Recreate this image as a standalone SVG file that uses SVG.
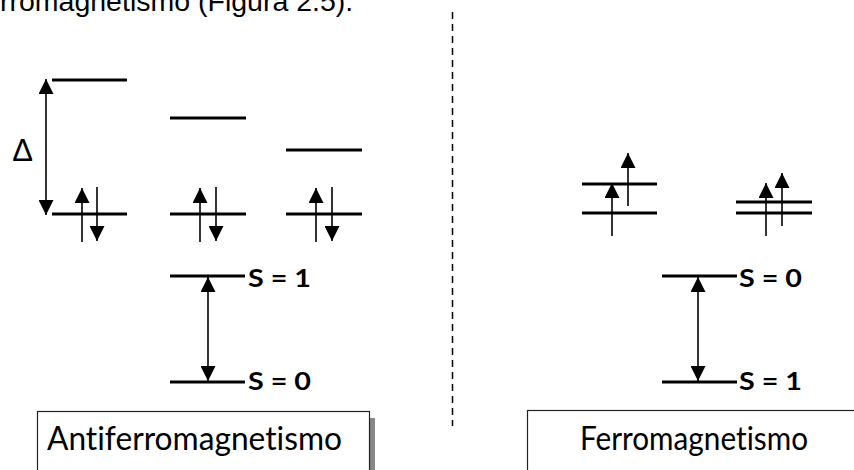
<svg xmlns="http://www.w3.org/2000/svg" width="854" height="470" viewBox="0 0 854 470">
<defs>
<marker id="ah" markerUnits="userSpaceOnUse" markerWidth="15" markerHeight="15" refX="15" refY="7.5" orient="auto-start-reverse" viewBox="0 0 15 15">
<path d="M0,0 L15,7.5 L0,15 z" fill="#000"/>
</marker>
<style>
.lvl{stroke:#000;stroke-width:3;fill:none}
.arr{stroke:#000;stroke-width:1.6;fill:none;marker-end:url(#ah)}
.darr{stroke:#000;stroke-width:1.6;fill:none;marker-end:url(#ah);marker-start:url(#ah)}
.s{font-family:Lato,"Liberation Sans",sans-serif;font-weight:bold;font-size:24px;fill:#000;font-variant-ligatures:none}
.lab{font-family:Lato,"Liberation Sans",sans-serif;font-size:32px;fill:#000;font-variant-ligatures:none;font-feature-settings:"liga" 0,"dlig" 0}
.box{fill:#fff;stroke:#222;stroke-width:1.2}
</style>
</defs>
<rect width="854" height="470" fill="#fff"/>
<text x="0" y="11" font-family="'Liberation Sans',Arial,sans-serif" font-size="28.5" fill="#000">rromagnetismo (Figura 2.5).</text>
<line x1="452.5" y1="12" x2="452.5" y2="426" stroke="#000" stroke-width="1.5" stroke-dasharray="7 5"/>
<g id="antiferro-levels">
<line class="lvl" x1="52" y1="80" x2="127" y2="80"/>
<line class="lvl" x1="52" y1="214" x2="127" y2="214"/>
<line class="lvl" x1="170" y1="118" x2="246" y2="118"/>
<line class="lvl" x1="170" y1="214" x2="246" y2="214"/>
<line class="lvl" x1="286" y1="150" x2="362" y2="150"/>
<line class="lvl" x1="286" y1="214" x2="362" y2="214"/>
<text x="22.5" y="161" text-anchor="middle" font-family="'Liberation Sans',Arial,sans-serif" font-size="31" fill="#000">Δ</text>
</g>
<g id="antiferro-spin">
<line class="lvl" x1="170" y1="276" x2="245" y2="276"/>
<line class="lvl" x1="170" y1="382" x2="245" y2="382"/>
<text class="s" x="248" y="287" textLength="63" lengthAdjust="spacingAndGlyphs">S = 1</text>
<text class="s" x="248" y="390" textLength="63" lengthAdjust="spacingAndGlyphs">S = 0</text>
</g>
<g id="ferro-levels">
<line class="lvl" x1="582" y1="184" x2="657" y2="184"/>
<line class="lvl" x1="582" y1="213" x2="657" y2="213"/>
<line class="lvl" x1="736" y1="202" x2="812" y2="202"/>
<line class="lvl" x1="736" y1="213" x2="812" y2="213"/>
</g>
<g id="ferro-spin">
<line class="lvl" x1="662" y1="276" x2="737" y2="276"/>
<line class="lvl" x1="662" y1="382" x2="737" y2="382"/>
<text class="s" x="739" y="287" textLength="63" lengthAdjust="spacingAndGlyphs">S = 0</text>
<text class="s" x="739" y="390" textLength="63" lengthAdjust="spacingAndGlyphs">S = 1</text>
</g>
<g id="label-antiferro">
<rect x="370" y="418" width="5" height="60" fill="#888"/>
<rect class="box" x="37.5" y="411.5" width="332" height="70"/>
<text class="lab" x="47" y="450" textLength="295" lengthAdjust="spacingAndGlyphs">Antiferromagnetismo</text>
</g>
<g id="label-ferro">
<rect class="box" x="527.5" y="410.5" width="340" height="70"/>
<text class="lab" x="580" y="450" textLength="228" lengthAdjust="spacingAndGlyphs">Ferromagnetismo</text>
</g>
<g id="connectors">
<line class="darr" x1="46" y1="79" x2="46" y2="215"/>
<line class="arr" x1="82" y1="242" x2="82" y2="188"/>
<line class="arr" x1="97" y1="187" x2="97" y2="241"/>
<line class="arr" x1="200" y1="242" x2="200" y2="188"/>
<line class="arr" x1="216" y1="187" x2="216" y2="241"/>
<line class="arr" x1="316" y1="242" x2="316" y2="188"/>
<line class="arr" x1="332" y1="187" x2="332" y2="241"/>
<line class="darr" x1="208" y1="277" x2="208" y2="381"/>
<line class="darr" x1="698" y1="277" x2="698" y2="381"/>
<line class="arr" x1="612" y1="236" x2="612" y2="183"/>
<line class="arr" x1="628" y1="206" x2="628" y2="153"/>
<line class="arr" x1="766" y1="236" x2="766" y2="183"/>
<line class="arr" x1="782" y1="226" x2="782" y2="173"/>
</g>
</svg>
